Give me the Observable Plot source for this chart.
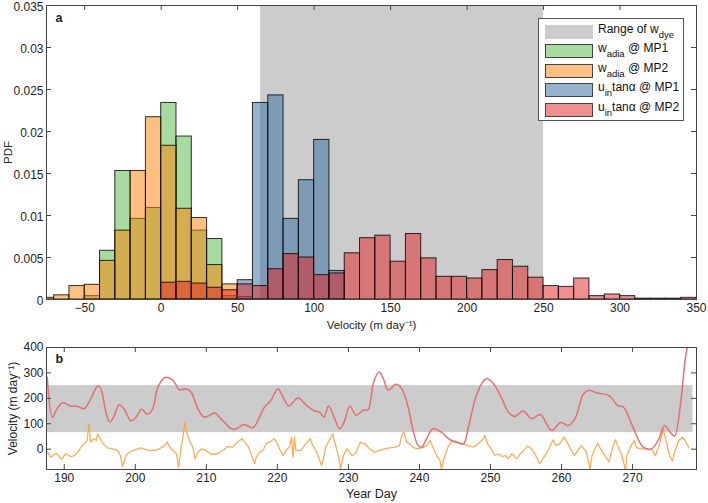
<!DOCTYPE html>
<html><head><meta charset="utf-8">
<script src="https://cdn.jsdelivr.net/npm/d3@7"></script>
<script src="https://cdn.jsdelivr.net/npm/@observablehq/plot@0.6"></script>
<style>
body{margin:0;background:#fff;font-family:"Liberation Sans",Arial,Helvetica,sans-serif;}
#wrap{position:relative;width:708px;height:503px;overflow:hidden}
#wrap svg{display:block}
#legend{position:absolute;left:538px;top:18px;width:146px;height:103px;border:1px solid #555;background:#fff;box-sizing:border-box;font-size:12px;color:#111}
.row{position:absolute;left:6px;height:14px;}
.sw{position:absolute;left:0;top:0;width:48px;height:14px;box-sizing:border-box}
.lab{position:absolute;left:53px;top:-3px;white-space:nowrap;line-height:14px}
.lab sub{font-size:9.5px;vertical-align:-5px;line-height:0}
</style></head><body>
<div id="wrap"><div id="topChart"></div><div id="botChart"></div><div id="legend"></div></div>
<script>
// ---------- Panel a: histogram data (PDF per 10 m/day bin) ----------
const binStart = [-80,-70,-60,-50,-40,-30,-20,-10,0,10,20,30,40,50,60,70,80,90,100,110,120,130,140,150,160,170,180,190,200,210,220,230,240,250,260,270,280,290,300,310,320,330,340];
const wadiaMP1 = [0,0,0,0.0004,0.0058,0.0153,0.0096,0.0109,0.0234,0.0194,0.0082,0.0072,0.0004,0,0,0,0,0,0,0,0,0,0,0,0,0,0,0,0,0,0,0,0,0,0,0,0,0,0,0,0,0,0];
const wadiaMP2 = [0.0002,0.0005,0.0016,0.00175,0.0046,0.0082,0.0153,0.0217,0.0183,0.0108,0.0097,0.0041,0.0018,0.0003,0,0,0,0,0,0,0,0,0,0,0,0,0,0,0,0,0,0,0,0,0,0,0,0,0,0,0,0,0];
const uinMP1   = [0,0,0,0,0,0,0,0,0,0,0,0,0,0.0023,0.0234,0.0243,0.0096,0.0142,0.0190,0.0034,0,0,0,0,0,0,0,0,0,0,0,0,0,0,0,0,0,0,0,0,0,0,0];
const uinMP2   = [0,0,0,0,0,0,0,0,0.0020,0.0021,0.0019,0.0014,0.0011,0.0018,0.0016,0.0036,0.0054,0.0050,0.0029,0.0031,0.0055,0.0073,0.0076,0.0045,0.0078,0.0049,0.0027,0.0027,0.0025,0.0035,0.0047,0.0039,0.0026,0.0016,0.0015,0.0025,0.0004,0.0006,0.0004,0.0001,0.0001,0.0001,0.0002];
const binWidth = 10;
const wdyeRange = [65, 250];
const velDomain = [-75, 350];
const pdfDomain = [0, 0.035];
const velTicks = [-50,0,50,100,150,200,250,300,350];
const pdfTicks = [0,0.005,0.01,0.015,0.02,0.025,0.03,0.035];

// ---------- Panel b: time series ----------
const redDay = [187.6,188.35,189.0,189.76,190.9,191.9,192.8,193.75,194.6,194.9,195.3,195.86,196.4,197.0,197.7,198.4,199.4,200.1,200.9,201.7,202.45,203.2,204.2,205.3,206.2,207.15,207.85,208.8,209.7,210.7,211.14,212.3,213.7,214.4,215.3,216.55,217.26,218.2,219.1,220.08,220.8,221.6,222.9,224.1,225.24,225.95,226.57,227.2,228.07,228.77,229.4,230.2,231.1,232.07,232.77,233.2,233.5,234.3,234.9,235.6,236.7,237.5,238.4,239.1,239.8,240.3,241.0,241.9,243.1,244.3,245.5,246.2,246.9,247.8,248.75,249.46,250.4,251.6,252.5,253.45,254.6,255.8,257.0,258.6,259.9,260.97,261.9,263.1,263.8,265.0,266.6,268.0,268.7,270.1,271.5,272.7,273.7,274.5,275.3,275.9,276.7,277.4,277.8];
const redVel = [284,126,160,183,170,168,159,199,245,248,225,146,107,129,175,159,111,126,157,137,159,245,282,271,234,238,225,159,126,137,143,113,78,83,97,84,113,166,192,238,205,170,201,172,150,146,126,170,120,80,107,170,133,153,155,205,258,304,278,232,255,238,166,74,15,8,41,80,67,37,24,21,87,192,258,278,258,199,146,129,150,120,136,74,105,93,120,218,232,221,212,170,166,84,8,2,41,93,67,51,166,350,415];
const orangeDay = [187.6,188.1,188.8,189.2,189.6,190.2,190.9,191.4,191.9,192.4,192.8,193.2,193.5,193.7,194.2,194.5,194.7,195.2,195.6,196.1,196.8,197.5,197.9,198.2,198.7,199.2,199.9,200.8,201.8,202.7,203.4,204.1,204.5,204.8,205.3,205.8,206.1,206.4,206.7,207.0,207.3,207.6,208.1,208.4,208.8,209.3,210.0,210.7,211.6,212.3,213.0,213.7,214.4,215.0,215.4,215.9,216.3,216.8,217.0,217.5,218.0,218.4,218.9,219.6,220.0,220.3,220.8,221.2,221.7,222.0,222.2,222.4,222.6,223.3,224.0,224.6,225.0,225.4,225.9,226.2,226.5,226.8,227.3,227.8,228.0,228.4,228.7,228.9,229.3,229.8,230.5,231.0,231.7,232.3,233.0,233.7,234.4,235.1,235.8,236.5,237.2,237.5,237.8,238.2,238.6,239.1,239.6,240.3,241.0,241.5,241.9,242.4,242.9,243.1,243.5,244.0,244.7,245.4,246.1,246.9,247.6,248.3,249.0,249.2,249.6,250.2,250.6,251.1,251.6,252.1,252.5,253.0,253.7,254.2,254.9,255.2,255.8,256.5,256.9,257.4,258.1,258.8,259.2,259.7,260.4,260.9,261.4,261.8,262.3,262.8,263.5,264.0,264.3,264.7,265.1,265.6,266.1,266.7,267.2,267.6,268.0,268.5,269.0,269.2,269.7,270.2,270.6,271.3,272.0,272.8,273.2,273.7,274.1,274.3,274.7,275.2,275.6,276.0,276.5,277.0,277.4,277.9];
const orangeVel = [-10,-32,-16,-25,-40,-18,-29,-25,-12,10,21,34,100,28,41,34,60,34,18,5,1,-5,-25,-68,-25,-12,-3,5,-5,-5,1,14,28,10,-5,-18,-71,-5,47,107,60,34,8,-38,-12,1,-5,-21,-18,-5,10,8,28,41,28,10,-18,-58,-32,-12,-3,21,28,41,21,1,-25,-5,8,47,-32,47,-5,-5,21,41,14,-5,-38,-64,-38,8,34,60,34,-5,-45,-78,-25,1,-25,-16,28,21,1,-12,-5,1,5,8,14,54,67,28,21,8,1,5,14,34,8,-25,-45,-78,-32,8,34,28,21,14,8,21,41,54,21,-5,-25,-18,-29,-25,-38,-18,-38,-18,1,12,1,-32,-58,-38,-5,37,14,21,47,21,-5,-25,-5,14,-12,-78,-25,1,24,-5,-25,-51,8,37,8,-25,-84,-25,8,34,5,1,1,-5,-25,10,54,80,34,-25,-47,-5,34,47,34,5];
const bandDay = [187.5, 278.5];
const dayDomain = [187.5, 279];
const bVelDomain = [-80, 400];
const dayTicks = [190,200,210,220,230,240,250,260,270];
const bVelTicks = [0,100,200,300,400];

// ---------- colours / legend ----------
const seriesNames = ["Range of w_dye","w_adia @ MP1","w_adia @ MP2","u_in tanα @ MP1","u_in tanα @ MP2"];
const seriesColors = ["#cccccc","#4fb741","#fd8101","#2f699f","#df1f1f"];

const W = 708, ML = 46, MR = 12;
const axisColor = "#444";
const font = {fontFamily: '"Liberation Sans", Arial, Helvetica, sans-serif', fontSize: "11.5px", color: "#222", background: "#fff"};

const bins = binStart.map((lo, i) => ({lo, hi: lo + binWidth, g: wadiaMP1[i], o: wadiaMP2[i], b: uinMP1[i], r: uinMP2[i]}));
const histLayer = (key, color) => Plot.rectY(bins.filter(d => d[key] > 0), {
  x1: "lo", x2: "hi", y: key, fill: color, fillOpacity: 0.5,
  stroke: "#000", strokeOpacity: 0.8, strokeWidth: 1, clip: true
});

// inward ticks helper
function frameTicks(xt, yt, plotW, plotH, len) {
  return [
    Plot.tickX(xt, {x: d => d, insetTop: plotH - len, stroke: axisColor}),
    Plot.tickX(xt, {x: d => d, insetBottom: plotH - len, stroke: axisColor}),
    Plot.tickY(yt, {y: d => d, insetRight: plotW - len, stroke: axisColor}),
    Plot.tickY(yt, {y: d => d, insetLeft: plotW - len, stroke: axisColor})
  ];
}

// ---------- top chart ----------
const H1 = 335, MT1 = 5, MB1 = 36;
const chartA = Plot.plot({
  width: W, height: H1, marginLeft: ML, marginRight: MR, marginTop: MT1, marginBottom: MB1,
  style: font,
  x: {domain: velDomain},
  y: {domain: pdfDomain},
  marks: [
    Plot.rect([wdyeRange], {x1: d => d[0], x2: d => d[1], fill: seriesColors[0]}),
    histLayer("g", seriesColors[1]),
    histLayer("o", seriesColors[2]),
    histLayer("b", seriesColors[3]),
    histLayer("r", seriesColors[4]),
    Plot.axisX(velTicks, {tickSize: 0, tickPadding: 4, label: null, fontSize: 12}),
    Plot.axisY(pdfTicks, {tickSize: 0, tickPadding: 3, label: null, tickFormat: d => String(d), fontSize: 12, dy: 1.5}),
    ...frameTicks(velTicks, pdfTicks, W - ML - MR, H1 - MT1 - MB1, 5),
    Plot.frame({stroke: axisColor}),
    Plot.text(["a"], {frameAnchor: "top-left", dx: 9, dy: 8, fontWeight: "bold", fontSize: 12.5}),
    Plot.text(["Velocity (m day⁻¹)"], {frameAnchor: "bottom", dy: 26, lineAnchor: "middle", fontSize: 11.5}),
    Plot.text(["PDF"], {frameAnchor: "left", dx: -38.5, rotate: -90, textAnchor: "middle", lineAnchor: "middle", fontSize: 11.5})
  ]
});
document.getElementById("topChart").appendChild(chartA);

// ---------- bottom chart ----------
const H2 = 168, MT2 = 12, MB2 = 34;
const redData = redDay.map((d, i) => ({day: d, v: redVel[i]}));
const orData = orangeDay.map((d, i) => ({day: d, v: orangeVel[i]}));
const chartB = Plot.plot({
  width: W, height: H2, marginLeft: ML, marginRight: MR, marginTop: MT2, marginBottom: MB2,
  style: font,
  x: {domain: dayDomain},
  y: {domain: bVelDomain},
  marks: [
    Plot.rect([0], {x1: () => bandDay[0], x2: () => bandDay[1], y1: () => wdyeRange[0], y2: () => wdyeRange[1], fill: seriesColors[0]}),
    Plot.line(orData, {x: "day", y: "v", stroke: "#f99f3c", strokeWidth: 1.3, strokeOpacity: 0.85, strokeLinejoin: "round", clip: true}),
    Plot.line(redData, {x: "day", y: "v", stroke: "#e46a6a", strokeWidth: 1.5, strokeOpacity: 0.95, curve: "catmull-rom", clip: true}),
    Plot.axisX(dayTicks, {tickSize: 0, tickPadding: 4, label: null, fontSize: 12}),
    Plot.axisY(bVelTicks, {tickSize: 0, tickPadding: 3, label: null, fontSize: 12}),
    ...frameTicks(dayTicks, bVelTicks, W - ML - MR, H2 - MT2 - MB2, 5),
    Plot.frame({stroke: axisColor}),
    Plot.text(["b"], {frameAnchor: "top-left", dx: 9, dy: 7, fontWeight: "bold", fontSize: 12.5}),
    Plot.text(["Year Day"], {frameAnchor: "bottom", dy: 24, lineAnchor: "middle", fontSize: 12.5}),
    Plot.text(["Velocity (m day⁻¹)"], {frameAnchor: "left", dx: -33, rotate: -90, textAnchor: "middle", lineAnchor: "middle", fontSize: 12})
  ]
});
document.getElementById("botChart").appendChild(chartB);

// ---------- legend (HTML overlay) ----------
const legendHTML = ["Range of w<sub>dye</sub>", "w<sub>adia</sub> @ MP1", "w<sub>adia</sub> @ MP2", "u<sub>in</sub>tanα @ MP1", "u<sub>in</sub>tanα @ MP2"];
const leg = document.getElementById("legend");
seriesColors.forEach((c, i) => {
  const row = document.createElement("div");
  row.className = "row";
  row.style.top = (6 + i * 19.4) + "px";
  const sw = document.createElement("div");
  sw.className = "sw";
  if (i === 0) { sw.style.background = c; }
  else {
    sw.style.background = `color-mix(in srgb, ${c} 50%, white)`;
    sw.style.border = "1px solid #444";
  }
  const lab = document.createElement("div");
  lab.className = "lab";
  lab.innerHTML = legendHTML[i];
  lab.title = seriesNames[i];
  row.appendChild(sw); row.appendChild(lab);
  leg.appendChild(row);
});
</script>
</body></html>
